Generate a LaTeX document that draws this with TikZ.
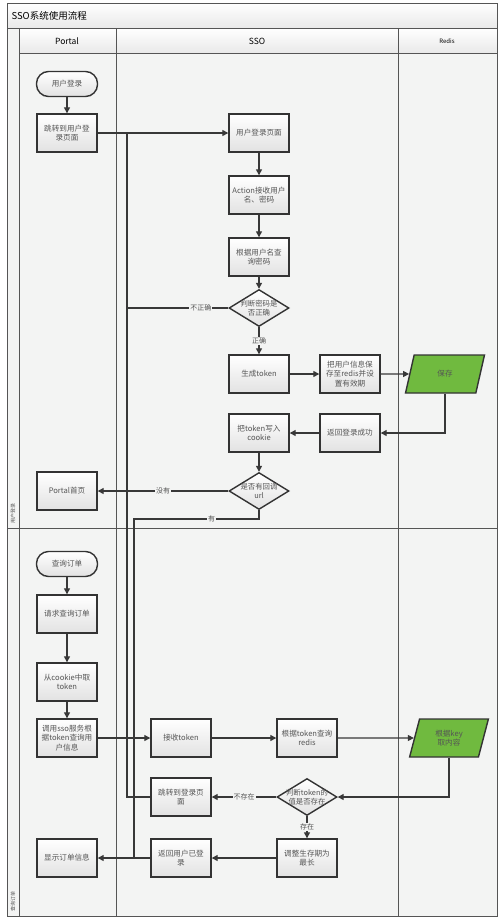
\documentclass[tikz,border=0pt]{standalone}
\usepackage{fontspec}
\setmainfont{Noto Sans CJK SC}
\usetikzlibrary{shapes.geometric,arrows.meta}

\tikzset{
  box/.style={draw=boxLine, line width=1.4pt, top color=white, bottom color=boxFill,
    minimum width=60pt, minimum height=38pt, inner sep=0.5pt, align=center,
    font=\fontsize{7.6}{9.6}\selectfont, text=txtGray},
  term/.style={box, rounded corners=12pt, minimum width=61pt, minimum height=25pt},
  decide/.style={diamond, draw=boxLine, line width=1.4pt, top color=white, bottom color=boxFill,
    minimum width=60pt, minimum height=37pt, inner sep=0pt},
  dtext/.style={font=\fontsize{7.4}{9.4}\selectfont, text=txtGray, align=center},
  store/.style={trapezium, trapezium left angle=75, trapezium right angle=105,
    trapezium stretches=true,
    draw=boxLine, line width=1.4pt, fill=colGreen, minimum width=79pt, minimum height=38pt,
    inner sep=1pt, align=center, font=\fontsize{7.6}{9.6}\selectfont, text=txtGray},
  flow/.style={draw=lineDark, line width=1.3pt},
  arr/.style={flow, -{Triangle[length=6pt,width=6pt]}},
  lbl/.style={fill=bgLane, inner sep=1pt, font=\fontsize{7}{8}\selectfont, text=txtGray},
  frame/.style={draw=frameGray, line width=0.8pt},
}

\begin{document}
\begin{tikzpicture}[x=1pt,y=-1pt]

% Colori
\definecolor{boxLine}{HTML}{333333}
\definecolor{boxFill}{HTML}{E2E2E2}
\definecolor{txtGray}{HTML}{555555}
\definecolor{lineDark}{HTML}{383838}
\definecolor{colGreen}{HTML}{70BA3F}
\definecolor{bgLane}{HTML}{F3F4F3}
\definecolor{bgHead}{HTML}{E9E9E9}
\definecolor{frameGray}{HTML}{555555}

\useasboundingbox (0,0) rectangle (500,921);
\fill[white] (0,0) rectangle (500,921);

% Corsie
\fill[bgLane] (7,28) rectangle (497,916);
\shade[top color=white, bottom color=bgHead] (7,3) rectangle (497,28);
\shade[top color=white, bottom color=bgHead] (19,28) rectangle (497,53);
\draw[frame] (7,3) rectangle (497,916);
\draw[frame] (7,28) -- (497,28);
\draw[frame] (19,53) -- (497,53);
\draw[frame] (19,28) -- (19,916);
\draw[frame] (116,28) -- (116,916);
\draw[frame] (398,28) -- (398,916);
\draw[frame] (7,528) -- (497,528);

% Titoli
\node[anchor=west, font=\fontsize{9.5}{11}\selectfont] (title) at (8,16) {SSO系统使用流程};
\node[font=\fontsize{8.5}{10}\selectfont] (hPortal) at (67,41) {Portal};
\node[font=\fontsize{8.5}{10}\selectfont] (hSso) at (257,41) {SSO};
\node[font=\fontsize{6}{8}\selectfont] (hRedis) at (447,41) {Redis};
\node[rotate=90, font=\fontsize{5}{6}\selectfont, text=txtGray] (laneLogin) at (13,513) {用户登录};
\node[rotate=90, font=\fontsize{5}{6}\selectfont, text=txtGray] (laneOrder) at (13,901) {查询订单};

% Portal
\node[term] (login) at (67,84) {用户登录};
\node[box] (toLogin) at (67,133) {跳转到用户登\\录页面};
\node[box] (home) at (67,491) {Portal首页};
\node[term] (query) at (67,564) {查询订单};
\node[box] (reqOrder) at (67,614) {请求查询订单};
\node[box] (getCookie) at (67,682) {从cookie中取\\token};
\node[box] (callSso) at (67,738) {调用sso服务根\\据token查询用\\户信息};
\node[box] (showOrder) at (67,858) {显示订单信息};

% SSO - login
\node[box] (loginPage) at (259,133) {用户登录页面};
\node[box] (action) at (259,195) {Action接收用户\\名、密码};
\node[box] (findPwd) at (259,257) {根据用户名查\\询密码};
\node[decide, label={[dtext]center:判断密码是\\否正确}] (chkPwd) at (259,308) {};
\node[box] (genToken) at (259,374) {生成token};
\node[box] (saveInfo) at (350,374) {把用户信息保\\存至redis并设\\置有效期};
\node[box] (retOk) at (350,433) {返回登录成功};
\node[box] (setCookie) at (259,433) {把token写入\\cookie};
\node[decide, label={[dtext]center:是否有回调\\url}] (chkUrl) at (259,491) {};

% SSO - query
\node[box] (recvToken) at (181,738) {接收token};
\node[box] (qryRedis) at (307,738) {根据token查询\\redis};
\node[box] (toLogin2) at (181,797) {跳转到登录页\\面};
\node[decide, label={[dtext]center:判断token的\\值是否存在}] (chkTok) at (307,797) {};
\node[box] (extend) at (307,858) {调整生存期为\\最长};
\node[box] (retLogged) at (181,858) {返回用户已登\\录};

% Redis
\node[store] (save) at (445,374) {保存};
\node[store] (getVal) at (449,738) {根据key\\取内容};

% Punti di raccordo
\coordinate (backTop) at (127,133);
\coordinate (yesTurn) at (134,519);
\coordinate (yesEnd) at (134,858);

% Flusso login
\draw[arr] (login) -- (toLogin);
\draw[arr] (toLogin) -- (loginPage);
\draw[arr] (loginPage) -- (action);
\draw[arr] (action) -- (findPwd);
\draw[arr] (findPwd) -- (chkPwd);
\draw[flow] (chkPwd.west) -- node[lbl, pos=0.27] {不正确} (chkPwd.west -| backTop) -- (backTop);
\draw[arr] (chkPwd) -- node[lbl] {正确} (genToken);
\draw[arr] (genToken) -- (saveInfo);
\draw[arr] (saveInfo) -- (save);
\draw[arr] (save.south) |- (retOk);
\draw[arr] (retOk) -- (setCookie);
\draw[arr] (setCookie) -- (chkUrl);
\draw[arr] (chkUrl) -- node[lbl] {没有} (home);
\draw[flow] (chkUrl.south) |- node[lbl, pos=0.69] {有} (yesTurn) -- (yesEnd);

% Flusso ordine
\draw[arr] (query) -- (reqOrder);
\draw[arr] (reqOrder) -- (getCookie);
\draw[arr] (getCookie) -- (callSso);
\draw[arr] (callSso) -- (recvToken);
\draw[arr] (recvToken) -- (qryRedis);
\draw[arr] (qryRedis) -- (getVal);
\draw[arr] (getVal.south) |- (chkTok);
\draw[arr] (chkTok) -- node[lbl] {不存在} (toLogin2);
\draw[flow] (toLogin2.west) -| (backTop);
\draw[arr] (chkTok) -- node[lbl] {存在} (extend);
\draw[arr] (extend) -- (retLogged);
\draw[arr] (retLogged) -- (showOrder);

\end{tikzpicture}
\end{document}
